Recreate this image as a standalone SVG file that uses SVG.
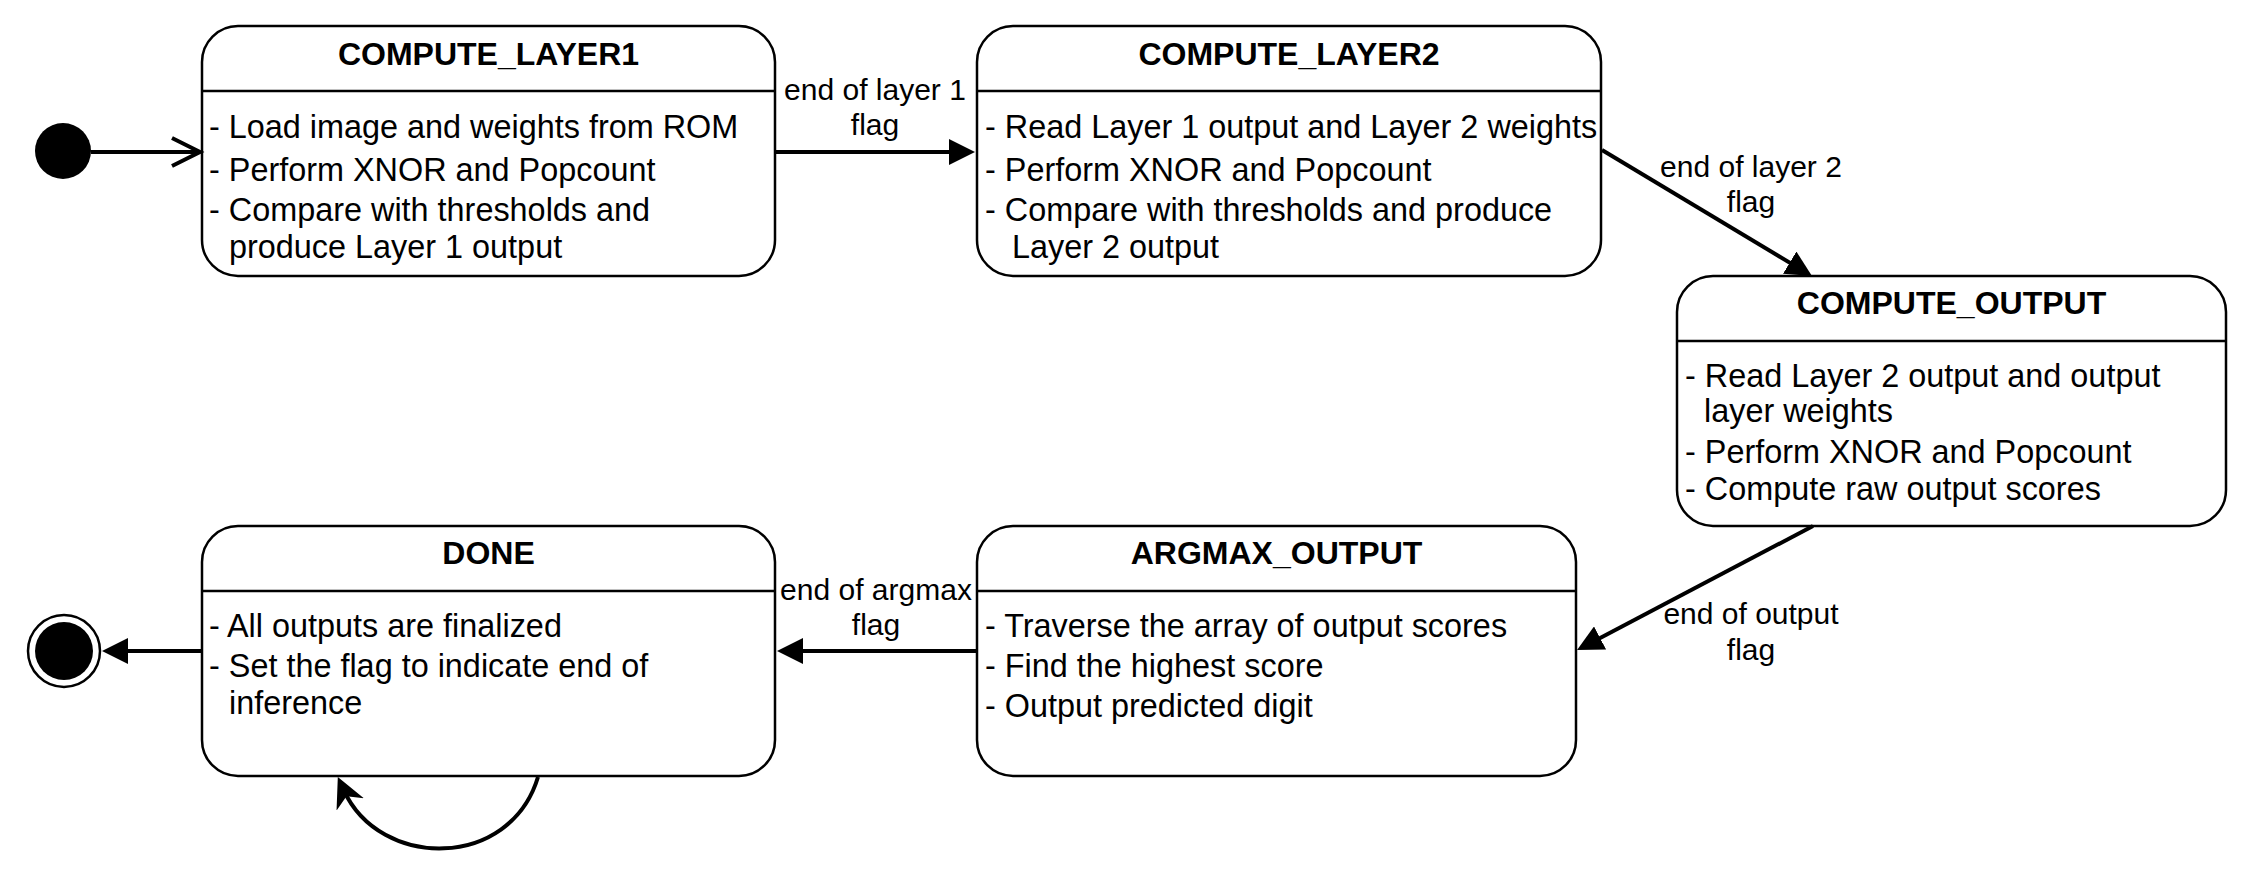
<svg xmlns="http://www.w3.org/2000/svg" width="2253" height="873" viewBox="0 0 2253 873">
  <style>
    .box { fill: #ffffff; stroke: #000000; stroke-width: 2.5; }
    .div { stroke: #000000; stroke-width: 2.5; }
    .title { font-family: "Liberation Sans", Arial, sans-serif; font-size: 32px; font-weight: bold; fill: #000; text-anchor: middle; }
    .body { font-family: "Liberation Sans", Arial, sans-serif; font-size: 32.4px; fill: #000; }
    .lbl { font-family: "Liberation Sans", Arial, sans-serif; font-size: 30px; fill: #000; text-anchor: middle; }
    .edge { fill: none; stroke: #000000; stroke-width: 4; }
  </style>
  <defs>
    <marker id="block" markerUnits="userSpaceOnUse" viewBox="0 0 26 26" markerWidth="26" markerHeight="26" refX="16" refY="13" orient="auto">
      <path d="M0,0 L26,13 L0,26 Z" fill="#000"/>
    </marker>
    <marker id="classic" markerUnits="userSpaceOnUse" viewBox="0 0 30 30" markerWidth="30" markerHeight="30" refX="16" refY="15" orient="auto">
      <path d="M0,0 L30,15 L0,30 L9,15 Z" fill="#000"/>
    </marker>
    <marker id="open" markerUnits="userSpaceOnUse" viewBox="0 0 34 34" markerWidth="34" markerHeight="34" refX="30" refY="17" orient="auto" overflow="visible">
      <path d="M2,3 L30,17 L2,31" fill="none" stroke="#000" stroke-width="4"/>
    </marker>
  </defs>

  <g id="initial">
    <circle cx="63" cy="151" r="28" fill="#000"/>
  </g>

  <g id="final">
    <circle cx="64" cy="651" r="36" fill="#fff" stroke="#000" stroke-width="2.5"/>
    <circle cx="64" cy="651" r="29" fill="#000"/>
  </g>

  <g id="compute_layer1">
    <rect class="box" x="202" y="26" width="573" height="250" rx="36" ry="36"/>
    <line class="div" x1="202" y1="91" x2="775" y2="91"/>
    <text class="title" x="488.5" y="65">COMPUTE_LAYER1</text>
    <text class="body" x="209" y="138">- Load image and weights from ROM</text>
    <text class="body" x="209" y="181">- Perform XNOR and Popcount</text>
    <text class="body" x="209" y="221">- Compare with thresholds and</text>
    <text class="body" x="229" y="258">produce Layer 1 output</text>
  </g>

  <g id="compute_layer2">
    <rect class="box" x="977" y="26" width="624" height="250" rx="36" ry="36"/>
    <line class="div" x1="977" y1="91" x2="1601" y2="91"/>
    <text class="title" x="1289" y="65">COMPUTE_LAYER2</text>
    <text class="body" x="985" y="138">- Read Layer 1 output and Layer 2 weights</text>
    <text class="body" x="985" y="181">- Perform XNOR and Popcount</text>
    <text class="body" x="985" y="221">- Compare with thresholds and produce</text>
    <text class="body" x="1012" y="258">Layer 2 output</text>
  </g>

  <g id="compute_output">
    <rect class="box" x="1677" y="276" width="549" height="250" rx="36" ry="36"/>
    <line class="div" x1="1677" y1="341" x2="2226" y2="341"/>
    <text class="title" x="1951.5" y="314">COMPUTE_OUTPUT</text>
    <text class="body" x="1685" y="387">- Read Layer 2 output and output</text>
    <text class="body" x="1704" y="422">layer weights</text>
    <text class="body" x="1685" y="463">- Perform XNOR and Popcount</text>
    <text class="body" x="1685" y="500">- Compute raw output scores</text>
  </g>

  <g id="argmax_output">
    <rect class="box" x="977" y="526" width="599" height="250" rx="36" ry="36"/>
    <line class="div" x1="977" y1="591" x2="1576" y2="591"/>
    <text class="title" x="1276.5" y="564">ARGMAX_OUTPUT</text>
    <text class="body" x="985" y="637">- Traverse the array of output scores</text>
    <text class="body" x="985" y="677">- Find the highest score</text>
    <text class="body" x="985" y="717">- Output predicted digit</text>
  </g>

  <g id="done">
    <rect class="box" x="202" y="526" width="573" height="250" rx="36" ry="36"/>
    <line class="div" x1="202" y1="591" x2="775" y2="591"/>
    <text class="title" x="488.5" y="564">DONE</text>
    <text class="body" x="209" y="637">- All outputs are finalized</text>
    <text class="body" x="209" y="677">- Set the flag to indicate end of</text>
    <text class="body" x="229" y="714">inference</text>
  </g>

  <g id="connectors">
    <path class="edge" d="M91,152 L200,152" marker-end="url(#open)"/>
    <path class="edge" d="M775,152 L965,152" marker-end="url(#block)"/>
    <path class="edge" d="M1602,150 L1803.4,270.9" marker-end="url(#block)"/>
    <path class="edge" d="M1813,526 L1585.9,645.4" marker-end="url(#block)"/>
    <path class="edge" d="M977,651 L787,651" marker-end="url(#block)"/>
    <path class="edge" d="M202,651 L112,651" marker-end="url(#block)"/>
    <path class="edge" d="M538,777 C510,870 380,870 343.6,789.8" marker-end="url(#classic)"/>

    <text class="lbl" x="875" y="100">end of layer 1</text>
    <text class="lbl" x="875" y="135">flag</text>
    <text class="lbl" x="1751" y="177">end of layer 2</text>
    <text class="lbl" x="1751" y="212">flag</text>
    <text class="lbl" x="1751" y="624">end of output</text>
    <text class="lbl" x="1751" y="660">flag</text>
    <text class="lbl" x="876" y="600">end of argmax</text>
    <text class="lbl" x="876" y="635">flag</text>
  </g>
</svg>
